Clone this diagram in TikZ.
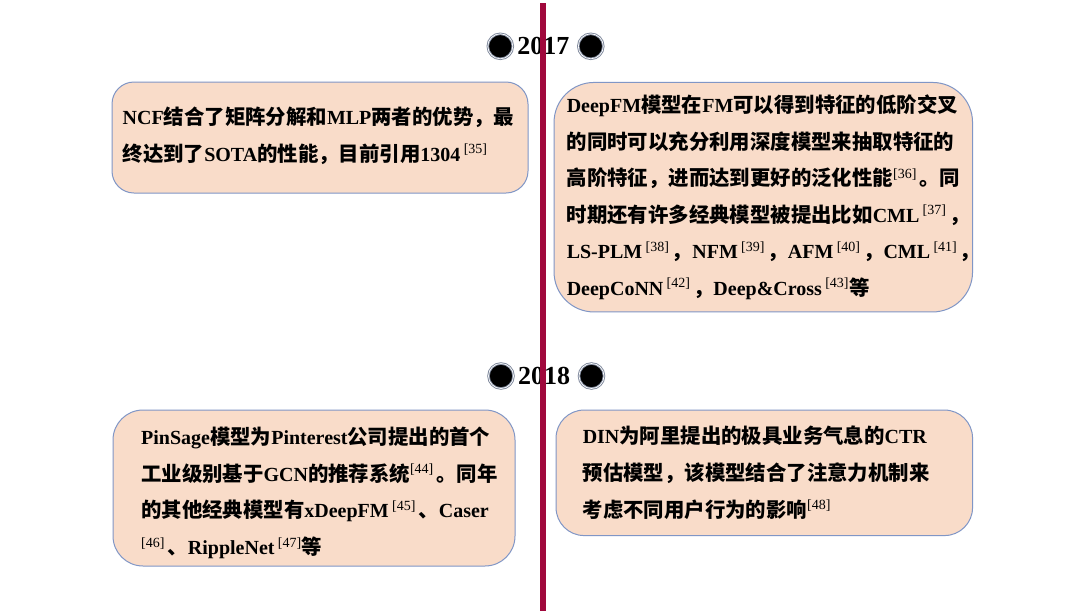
\documentclass[tikz,border=0pt]{standalone}
\usepackage{fontspec}
\setmainfont{Liberation Serif}
\newfontfamily\cjkfont{Noto Sans CJK SC}[Scale=1.02]
\XeTeXinterchartokenstate=1
\newXeTeXintercharclass\hanclass
\newcount\hanpos
\def\sethan#1#2{\hanpos=#1 \loop\XeTeXcharclass\hanpos=\hanclass \advance\hanpos by 1 \ifnum\hanpos<#2 \repeat}
\sethan{"3000}{"3040}\sethan{"4E00}{"A000}\sethan{"FF00}{"FFF0}
\XeTeXinterchartoks 0 \hanclass = {\cjkfont}
\XeTeXinterchartoks 4095 \hanclass = {\cjkfont}
\XeTeXinterchartoks \hanclass 0 = {\rmfamily}
\XeTeXinterchartoks \hanclass 4095 = {\rmfamily}
\newcommand\refno[1]{\textsuperscript{\mdseries[#1]}}
\newcommand\pgap{\hspace{2.5pt}}
\definecolor{spinered}{RGB}{160,8,60}
\definecolor{boxfill}{RGB}{249,220,201}
\definecolor{boxline}{RGB}{128,150,198}
\definecolor{ringgray}{RGB}{125,135,155}
\tikzset{
  box/.style={draw=boxline, line width=1pt, fill=boxfill, inner sep=0pt},
  txt/.style={anchor=west, align=left, inner sep=0pt,
    font=\fontsize{20}{36.6}\selectfont\bfseries},
  year/.style={inner sep=2pt, font=\fontsize{26}{26}\selectfont\bfseries},
  dot/.style={circle, fill=black, draw=ringgray, double=white, double distance=0.7pt,
    line width=0.9pt, minimum size=25pt, inner sep=0pt}
}
\begin{document}
\begin{tikzpicture}[x=1pt,y=-1pt]
\fill[white] (0,0) rectangle (1080,608);
\node[box, minimum width=416pt, minimum height=111pt, rounded corners=22pt] (ncf) at (320,134.5) {};
\node[box, minimum width=418.5pt, minimum height=229.5pt, rounded corners=40pt] (deepfm) at (763.3,194.2) {};
\node[box, minimum width=402pt, minimum height=156pt, rounded corners=30pt] (pinsage) at (314,485) {};
\node[box, minimum width=416.5pt, minimum height=125.5pt, rounded corners=28pt] (din) at (764.3,469.8) {};
\node[txt] (ncftext) at ([xshift=11pt,yshift=2pt]ncf.west)
  {NCF结合了矩阵分解和MLP两者的优势，最\\
   终达到了SOTA的性能，目前引用1304\,\refno{35}};
\node[txt] (deepfmtext) at ([xshift=13pt]deepfm.west)
  {DeepFM模型在FM可以得到特征的低阶交叉\\
   的同时可以充分利用深度模型来抽取特征的\\
   高阶特征，进而达到更好的泛化性能\refno{36}\pgap。同\\
   时期还有许多经典模型被提出比如CML\,\refno{37}\pgap，\\
   LS-PLM\,\refno{38}\pgap，NFM\,\refno{39}\pgap，AFM\,\refno{40}\pgap，CML\,\refno{41}\pgap，\\
   DeepCoNN\,\refno{42}\pgap，Deep\&Cross\,\refno{43}等};
\node[txt] (pinsagetext) at ([xshift=28.5pt,yshift=-5pt]pinsage.west)
  {PinSage模型为Pinterest公司提出的首个\\
   工业级别基于GCN的推荐系统\refno{44}\pgap。同年\\
   的其他经典模型有xDeepFM\,\refno{45}\pgap、Caser\\
   \refno{46}\pgap、RippleNet\,\refno{47}等};
\node[txt] (dintext) at ([xshift=27pt]din.west)
  {DIN为阿里提出的极具业务气息的CTR\\
   预估模型，该模型结合了注意力机制来\\
   考虑不同用户行为的影响\refno{48}};
\node[year] (y17) at (543.3,43) {2017};
\node[dot] (d17l) at (500.3,43.3) {};
\node[dot] (d17r) at (590.8,43.3) {};
\node[year] (y18) at (544,373) {2018};
\node[dot] (d18l) at (501,373) {};
\node[dot] (d18r) at (591.5,373) {};
\coordinate (top) at (543,0);
\coordinate (bottom) at (543,608);
\draw[spinered, line width=6pt] (top) -- (bottom);
\end{tikzpicture}
\end{document}
